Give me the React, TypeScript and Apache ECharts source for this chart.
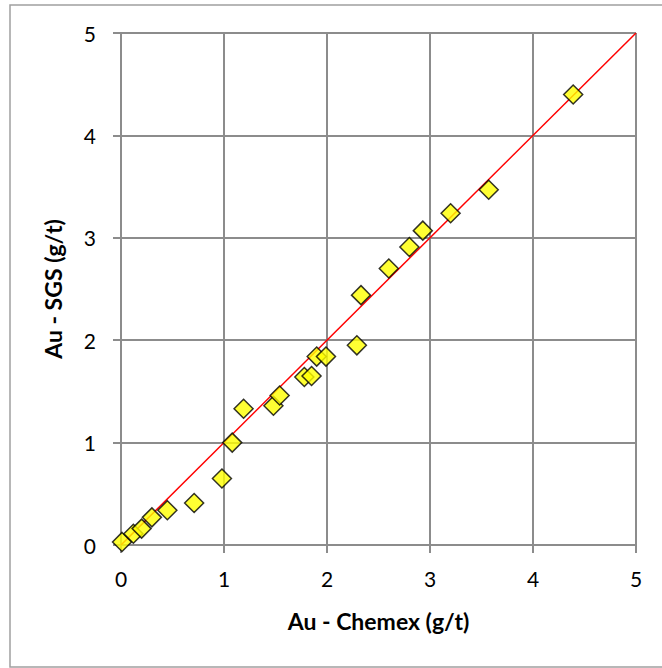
import React, { useEffect, useRef } from "react";
import * as echarts from "echarts";

const chemex = [0.01, 0.12, 0.2, 0.3, 0.45, 0.71, 0.98, 1.08, 1.19, 1.48, 1.54, 1.78, 1.85, 1.9, 1.99, 2.29, 2.33, 2.6, 2.8, 2.93, 3.2, 3.57, 4.39];
const sgs = [0.03, 0.11, 0.16, 0.27, 0.34, 0.41, 0.65, 1.0, 1.33, 1.36, 1.46, 1.64, 1.65, 1.84, 1.84, 1.95, 2.44, 2.7, 2.91, 3.07, 3.24, 3.47, 4.4];
const lineX = [0, 5];
const lineY = [0, 5];

export default function App() {
  const ref = useRef<HTMLDivElement>(null);
  useEffect(() => {
    if (!ref.current) return;
    const chart = echarts.init(ref.current, null, { renderer: "svg" });
    const font = "Lato, 'Open Sans', sans-serif";
    chart.setOption({
      animation: false,
      backgroundColor: "#fff",
      graphic: [
        {
          type: "rect",
          shape: { x: 10, y: 5, width: 680, height: 662 },
          style: { fill: "none", stroke: "#a0a0a0", lineWidth: 1.5 },
          silent: true,
        },
      ],
      grid: { left: 121, right: 26, top: 33, bottom: 123 },
      xAxis: {
        type: "value",
        min: 0,
        max: 5,
        interval: 1,
        name: "Au - Chemex (g/t)",
        nameLocation: "middle",
        nameGap: 64,
        nameTextStyle: { fontFamily: font, fontWeight: "bold", fontSize: 23, color: "#000" },
        axisLine: { show: true, lineStyle: { color: "#8c8c8c", width: 2 } },
        axisTick: { show: true, length: 8, lineStyle: { color: "#8c8c8c", width: 2 } },
        axisLabel: { fontFamily: font, fontSize: 21, color: "#000", margin: 23 },
        splitLine: { show: true, lineStyle: { color: "#8c8c8c", width: 2 } },
      },
      yAxis: {
        type: "value",
        min: 0,
        max: 5,
        interval: 1,
        name: "Au - SGS (g/t)",
        nameLocation: "middle",
        nameGap: 57,
        nameRotate: 90,
        nameTextStyle: { fontFamily: font, fontWeight: "bold", fontSize: 23, color: "#000" },
        axisLine: { show: true, lineStyle: { color: "#8c8c8c", width: 2 } },
        axisTick: { show: true, length: 8, lineStyle: { color: "#8c8c8c", width: 2 } },
        axisLabel: { fontFamily: font, fontSize: 21, color: "#000", margin: 25 },
        splitLine: { show: true, lineStyle: { color: "#8c8c8c", width: 2 } },
      },
      series: [
        {
          type: "line",
          data: lineX.map((x, i) => [x, lineY[i]]),
          showSymbol: false,
          symbol: "none",
          lineStyle: { color: "#ff0000", width: 1.5 },
          z: 2,
        },
        {
          type: "scatter",
          data: chemex.map((x, i) => [x, sgs[i]]),
          symbol: "diamond",
          symbolSize: 19,
          itemStyle: { color: "#ffff00", borderColor: "#000", borderWidth: 1.5 },
          z: 3,
        },
      ],
    });
    return () => chart.dispose();
  }, []);
  return (
    <div
      ref={ref}
      style={{ position: "fixed", left: 0, top: 0, width: 662, height: 668 }}
    />
  );
}
